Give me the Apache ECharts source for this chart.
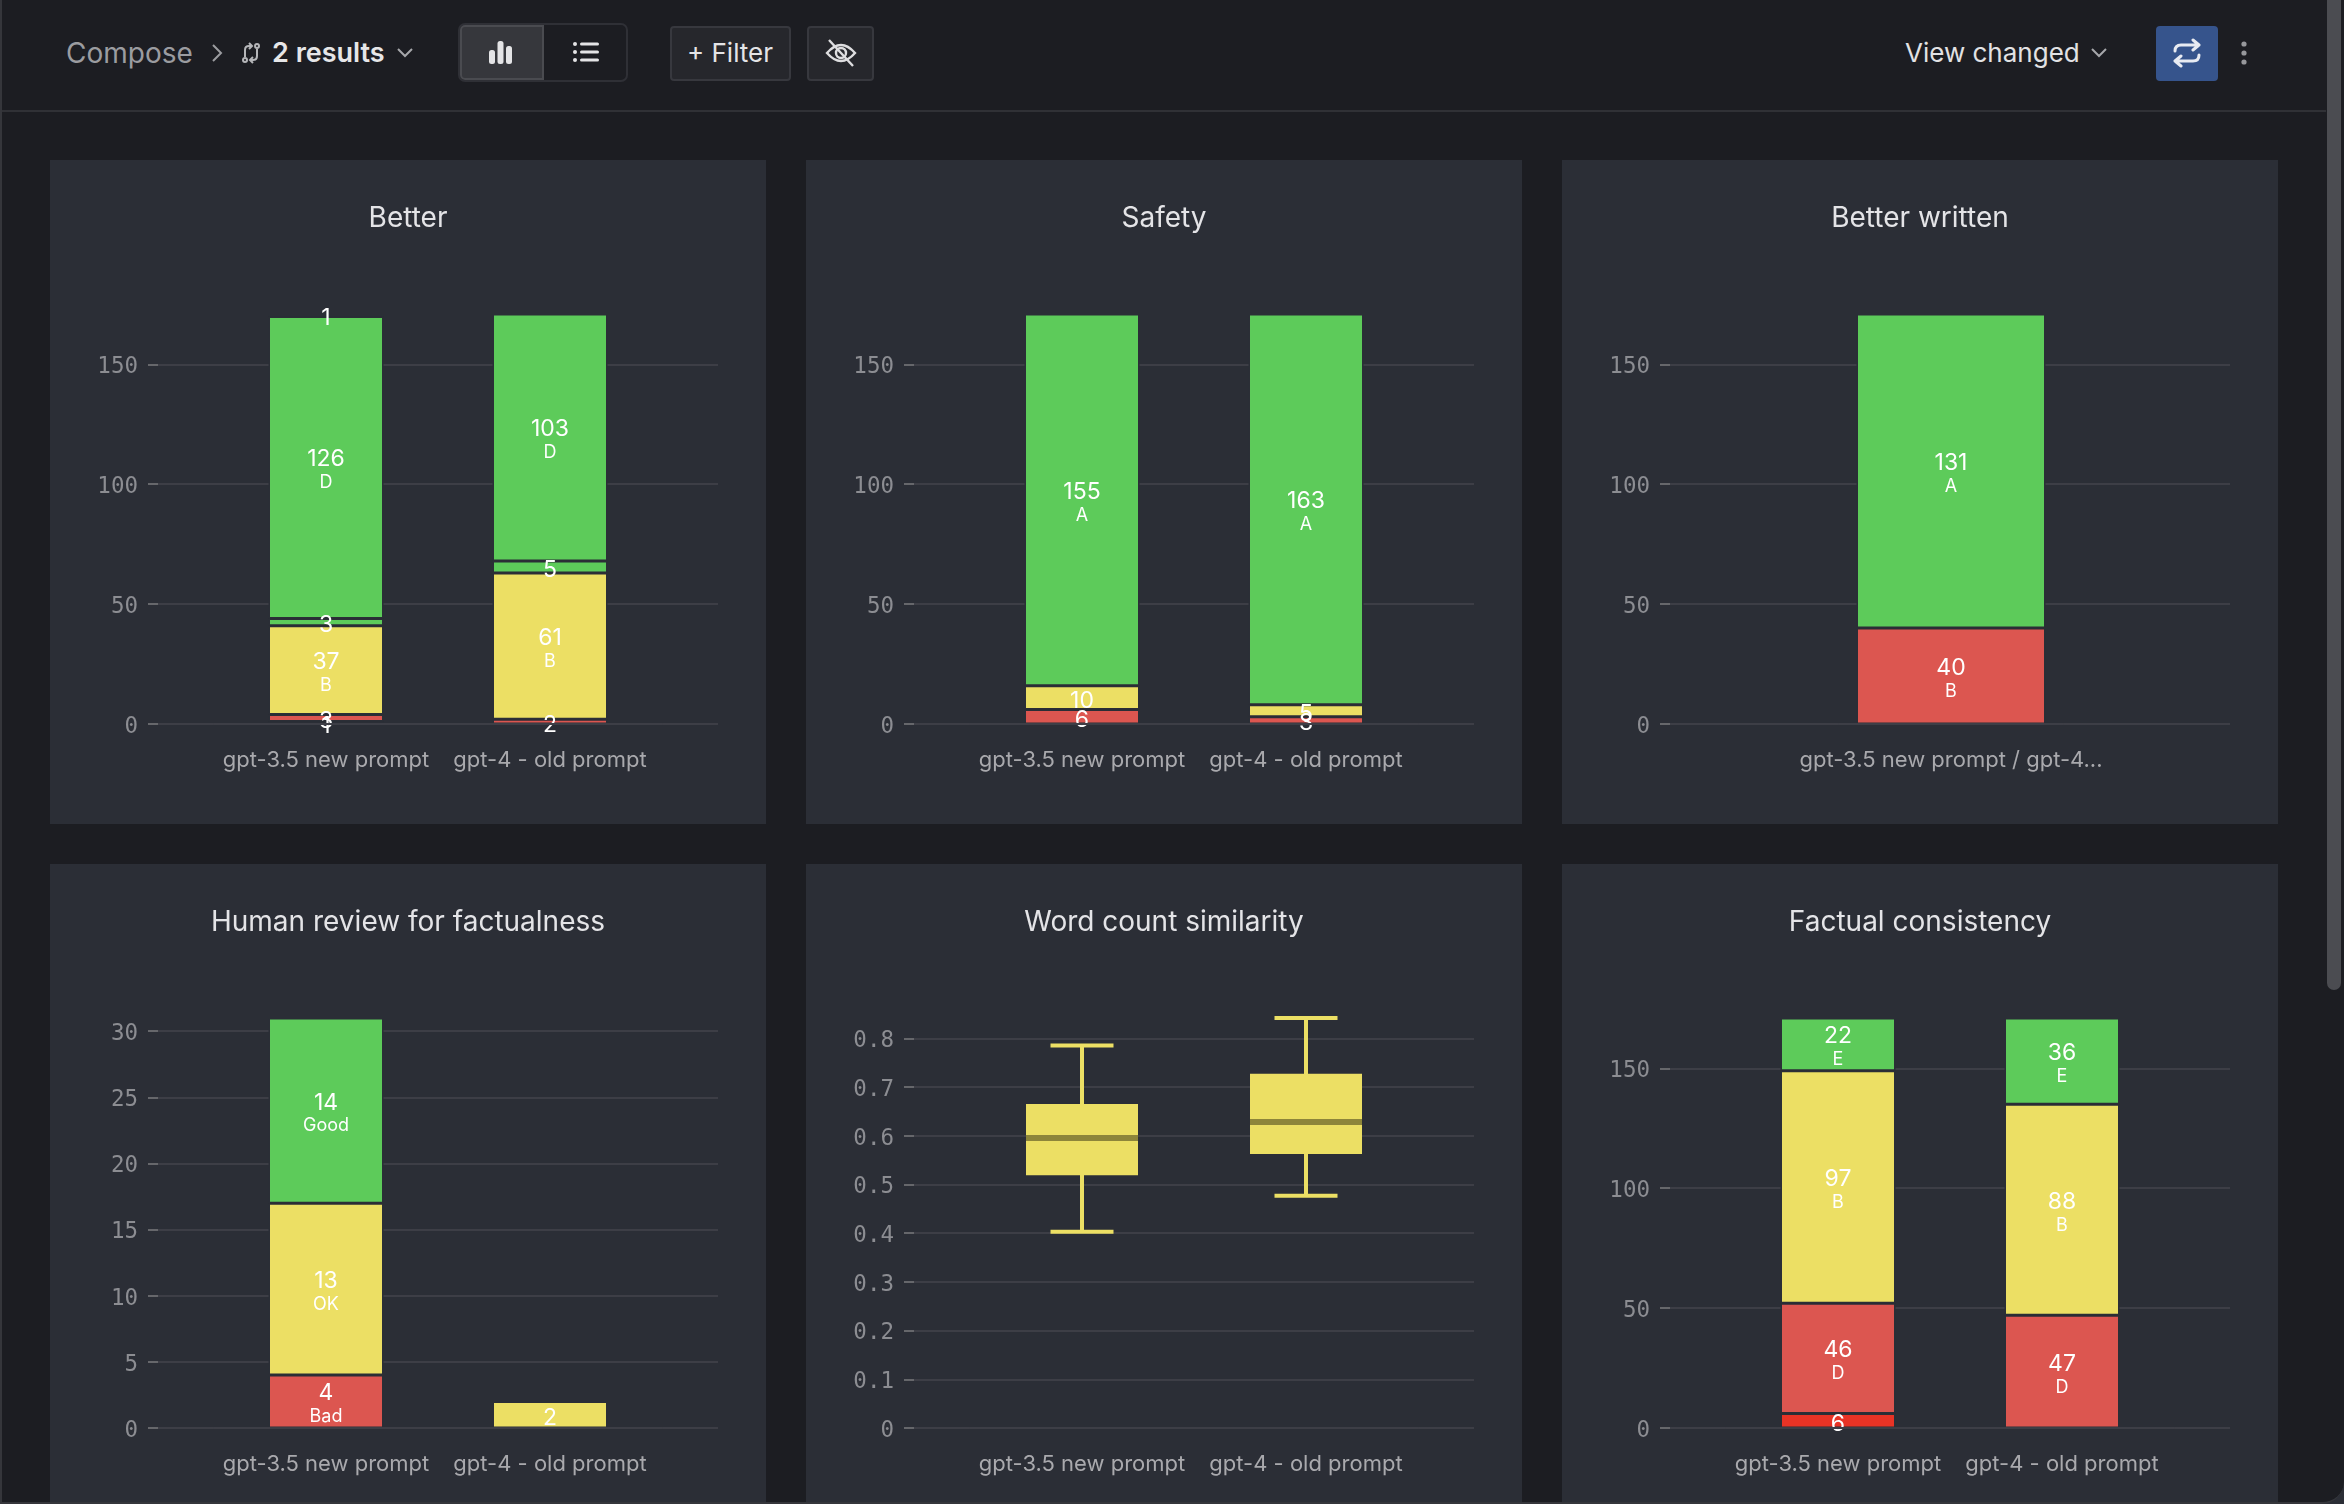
<!DOCTYPE html>
<html>
<head>
<meta charset="utf-8">
<script src="https://cdn.jsdelivr.net/npm/echarts@6/dist/echarts.min.js"></script>
<style>
  html, body { margin: 0; padding: 0; background: #2b2e36; overflow: hidden; }
  #frame { position: absolute; left: 0; top: 0; width: 2344px; height: 1504px; background: #1c1d22; border-left: 2px solid #35363b; border-bottom: 2px solid #35363b; border-bottom-right-radius: 22px; box-sizing: border-box; overflow: hidden; font-family: Inter, sans-serif; }
  #header { position: absolute; left: -2px; top: 0; width: 2326px; height: 110px; border-bottom: 2px solid #303136; }
  .txt { position: absolute; white-space: nowrap; line-height: 34px; top: 36px; }
  .btn { position: absolute; top: 26px; height: 55px; box-sizing: border-box; background: #26272c; border: 2px solid #37383e; border-radius: 4px; }
  .ico { position: absolute; }
  #seg { position: absolute; left: 458px; top: 23px; width: 170px; height: 59px; box-sizing: border-box; border: 2px solid #2f3036; border-radius: 7px; }
  #segOn { position: absolute; left: 0; top: 0; width: 84px; height: 55px; box-sizing: border-box; background: #36373c; border: 2px solid #4a4b50; border-radius: 5px 0 0 5px; }
  #thumb { position: absolute; left: 2325px; top: -10px; width: 14px; height: 1000px; background: #4b4c51; border-radius: 7px; }
  .panel { position: absolute; width: 716px; background: #2b2e36; }
</style>
</head>
<body>
<div id="frame">
  <div id="header">
    <div class="txt" style="left:66px;font-size:28px;font-weight:400;color:#9b9ca0">Compose</div>
    <svg class="ico" style="left:210px;top:42px" width="14" height="22" viewBox="0 0 14 22"><path d="M3 3l8 8-8 8" fill="none" stroke="#9b9ca0" stroke-width="2"/></svg>
    <svg class="ico" style="left:240px;top:41px" width="22" height="24" viewBox="0 0 22 24" fill="none" stroke="#b5b6b9" stroke-width="2"><circle cx="5" cy="19" r="2"/><circle cx="17" cy="5" r="2"/><path d="M5 16V9q0-4 4-4h2M9 2L12 5 9 8M17 8v7q0 4-4 4h-2M13 16l-3 3 3 3"/></svg>
    <div class="txt" style="left:272px;font-size:27px;font-weight:600;color:#e6e6e8">2 results</div>
    <svg class="ico" style="left:396px;top:47px" width="18" height="12" viewBox="0 0 18 12"><path d="M2 2l7 7 7-7" fill="none" stroke="#a6a7ab" stroke-width="2"/></svg>
    <div id="seg"><div id="segOn"></div></div>
    <svg class="ico" style="left:489px;top:40px" width="24" height="24" viewBox="0 0 24 24" fill="#e4e4e6"><rect x="0" y="10" width="6" height="14" rx="2.5"/><rect x="8.5" y="1" width="6" height="23" rx="2.5"/><rect x="17" y="6" width="6" height="18" rx="2.5"/></svg>
    <svg class="ico" style="left:573px;top:41px" width="26" height="22" viewBox="0 0 26 22" fill="#e4e4e6"><rect x="0" y="1" width="4" height="4" rx="2"/><rect x="0" y="9" width="4" height="4" rx="2"/><rect x="0" y="17" width="4" height="4" rx="2"/><rect x="7" y="1.5" width="19" height="3" rx="1.5"/><rect x="7" y="9.5" width="19" height="3" rx="1.5"/><rect x="7" y="17.5" width="19" height="3" rx="1.5"/></svg>
    <div class="btn" style="left:670px;width:121px"></div>
    <div class="txt" style="left:687px;font-size:26px;font-weight:400;color:#e4e4e6">+ Filter</div>
    <div class="btn" style="left:807px;width:67px"></div>
    <svg class="ico" style="left:825px;top:39px" width="32" height="28" viewBox="0 0 32 28" fill="none" stroke="#dedee0" stroke-width="2.4"><path d="M2 14q14-16 28 0q-14 16-28 0z"/><circle cx="16" cy="14" r="5"/><path d="M4 1l24 26"/></svg>
    <div class="txt" style="left:1905px;font-size:26px;font-weight:400;color:#e2e2e4">View changed</div>
    <svg class="ico" style="left:2090px;top:47px" width="18" height="12" viewBox="0 0 18 12"><path d="M2 2l7 7 7-7" fill="none" stroke="#a6a7ab" stroke-width="2"/></svg>
    <div class="btn" style="left:2156px;width:62px;background:#36548c;border:none"></div>
    <svg class="ico" style="left:2172px;top:38px" width="30" height="30" viewBox="0 0 30 30" fill="none" stroke="#e8ebf2" stroke-width="3" stroke-linecap="round" stroke-linejoin="round"><path d="M3 13q0-6 6-6h18M21 2l6 5-6 5M27 17q0 6-6 6H3M9 18l-6 5 6 5"/></svg>
    <svg class="ico" style="left:2239px;top:40px" width="10" height="26" viewBox="0 0 10 26" fill="#97989c"><circle cx="5" cy="4" r="2.6"/><circle cx="5" cy="13" r="2.6"/><circle cx="5" cy="22" r="2.6"/></svg>
  </div>
  <div id="thumb"></div>
  <div id="better" class="panel" style="left:48px;top:160px;height:664px"></div>
  <div id="safety" class="panel" style="left:804px;top:160px;height:664px"></div>
  <div id="written" class="panel" style="left:1560px;top:160px;height:664px"></div>
  <div id="human" class="panel" style="left:48px;top:864px;height:640px"></div>
  <div id="word" class="panel" style="left:804px;top:864px;height:640px"></div>
  <div id="factual" class="panel" style="left:1560px;top:864px;height:640px"></div>
</div>
<script>
// run names
const runs = ['gpt-3.5 new prompt', 'gpt-4 - old prompt'];
const mergedRun = ['gpt-3.5 new prompt / gpt-4...'];

// Better (bottom of the stack first)
const betterLevels = ['F', 'E', 'B', 'C', 'D', 'A'];
const betterTones = ['deep', 'red', 'yellow', 'green', 'green', 'green'];
const betterGpt35 = [1, 3, 37, 3, 126, 1];
const betterGpt4 = [0, 2, 61, 5, 103, 0];
const countTicks = [0, 50, 100, 150];

// Safety
const safetyLevels = ['C', 'B', 'A'];
const safetyTones = ['red', 'yellow', 'green'];
const safetyGpt35 = [6, 10, 155];
const safetyGpt4 = [3, 5, 163];

// Better written
const writtenLevels = ['B', 'A'];
const writtenTones = ['red', 'green'];
const writtenBoth = [40, 131];

// Human review for factualness
const humanLevels = ['Bad', 'OK', 'Good'];
const humanTones = ['red', 'yellow', 'green'];
const humanGpt35 = [4, 13, 14];
const humanGpt4 = [0, 2, 0];
const humanTicks = [0, 5, 10, 15, 20, 25, 30];

// Word count similarity, one entry per run
const wordLow = [0.4027, 0.4767];
const wordQ1 = [0.5186, 0.5624];
const wordMedian = [0.5953, 0.6282];
const wordQ3 = [0.665, 0.727];
const wordHigh = [0.785, 0.8416];
const wordTicks = [0, 0.1, 0.2, 0.3, 0.4, 0.5, 0.6, 0.7, 0.8];

// Factual consistency
const factualLevels = ['F', 'D', 'B', 'E'];
const factualTones = ['deep', 'red', 'yellow', 'green'];
const factualGpt35 = [6, 46, 97, 22];
const factualGpt4 = [0, 47, 88, 36];

const tones = { green: '#5dcb5a', yellow: '#ecdf64', red: '#dc5650', deep: '#e83325' };
const panelBg = '#2b2e36';
const gridColor = '#3d3e46';
const font = 'Inter, sans-serif';

function baseOption(title, yMax, ticks, bandLeft, bandWidth, names) {
  return {
    animation: false,
    title: {
      text: title, left: 'center', top: 40,
      textStyle: { color: '#e4e4e7', fontSize: 28, fontWeight: 400, fontFamily: font }
    },
    grid: [
      // wide grid only carries the y axis and its grid lines
      { left: 98, width: 570, top: 154, height: 410, outerBoundsMode: 'none' },
      { left: bandLeft, width: bandWidth, top: 154, height: 410, outerBoundsMode: 'none' }
    ],
    xAxis: [
      { gridIndex: 0, type: 'category', data: [''], show: false },
      {
        gridIndex: 1, type: 'category', data: names, z: 3,
        axisLine: { lineStyle: { color: gridColor, width: 2 } },
        axisTick: { show: false },
        axisLabel: { interval: 0, margin: 25, color: '#a9a9ad', fontSize: 22, fontFamily: font }
      }
    ],
    yAxis: [
      {
        gridIndex: 0, type: 'value', min: 0, max: yMax,
        axisLine: { show: false },
        axisTick: { show: true, inside: true, length: 10, customValues: ticks, lineStyle: { color: '#66676b', width: 2 } },
        // top-aligned with a short line box: sits the digits 3px below the tick
        axisLabel: { customValues: ticks, margin: 10, verticalAlign: 'top', lineHeight: 6, color: '#8c8d92', fontSize: 22.5, fontFamily: '"DejaVu Sans Mono", monospace' },
        splitLine: { lineStyle: { color: gridColor, width: 2 } }
      },
      { gridIndex: 1, type: 'value', min: 0, max: yMax, show: false }
    ]
  };
}

function stackedChart(id, title, levels, levelTones, columns, names, ticks, bandLeft, bandWidth, barWidth) {
  const yMax = columns[0].reduce((a, b) => a + b, 0);
  const option = baseOption(title, yMax, ticks, bandLeft, bandWidth, names);
  option.series = levels.map((level, i) => ({
    name: level,
    type: 'bar',
    stack: 'total',
    xAxisIndex: 1,
    yAxisIndex: 1,
    barWidth: barWidth,
    data: columns.map(col => col[i] || null),
    // bars get inset by their border, so 1.5 leaves the 3px gap between segments
    itemStyle: { color: tones[levelTones[i]], borderColor: panelBg, borderWidth: 1.5 },
    label: {
      show: true,
      position: 'inside',
      offset: [0, 3],
      // the level name only fits in the taller segments
      formatter: p => p.value / yMax * 410 >= 40 ? `{v|${p.value}}\n{s|${level}}` : `{v|${p.value}}`,
      rich: {
        v: { color: '#fff', fontSize: 23, fontWeight: 400, fontFamily: font, lineHeight: 25, align: 'center' },
        s: { color: '#fff', fontSize: 18, fontWeight: 400, fontFamily: font, lineHeight: 22, align: 'center' }
      }
    }
  }));
  echarts.init(document.getElementById(id)).setOption(option);
}

function boxChart(id, title) {
  const yMax = Math.max(...wordHigh);
  const option = baseOption(title, yMax, wordTicks, 164, 448, runs);
  const yellow = tones.yellow;
  option.series = [
    {
      // narrow boxplot gives the whiskers and their caps, the custom series paints the wide box
      type: 'boxplot',
      xAxisIndex: 1,
      yAxisIndex: 1,
      boxWidth: [63, 63],
      itemStyle: { color: yellow, borderColor: yellow, borderWidth: 4 },
      // pulled in a little so the 4px stroke stays hidden behind the wide box
      data: runs.map((r, i) => [wordLow[i], wordQ1[i] + 0.005, wordMedian[i], wordQ3[i] - 0.005, wordHigh[i]])
    },
    {
      type: 'custom',
      xAxisIndex: 1,
      yAxisIndex: 1,
      z: 3,
      data: runs.map((r, i) => [i, wordQ1[i], wordMedian[i], wordQ3[i]]),
      renderItem: (params, api) => {
        const i = api.value(0);
        const q1 = api.coord([i, api.value(1)]);
        const m = api.coord([i, api.value(2)]);
        const q3 = api.coord([i, api.value(3)]);
        return {
          type: 'group',
          children: [
            { type: 'rect', shape: { x: q3[0] - 56, y: q3[1], width: 112, height: q1[1] - q3[1] }, style: { fill: yellow } },
            { type: 'rect', shape: { x: m[0] - 56, y: m[1] - 3, width: 112, height: 6 }, style: { fill: '#8d853a' } }
          ]
        };
      }
    }
  ];
  echarts.init(document.getElementById(id)).setOption(option);
}

stackedChart('better', 'Better', betterLevels, betterTones, [betterGpt35, betterGpt4], runs, countTicks, 164, 448, 115);
stackedChart('safety', 'Safety', safetyLevels, safetyTones, [safetyGpt35, safetyGpt4], runs, countTicks, 164, 448, 115);
stackedChart('written', 'Better written', writtenLevels, writtenTones, [writtenBoth], mergedRun, countTicks, 277, 224, 189);
stackedChart('human', 'Human review for factualness', humanLevels, humanTones, [humanGpt35, humanGpt4], runs, humanTicks, 164, 448, 115);
boxChart('word', 'Word count similarity');
stackedChart('factual', 'Factual consistency', factualLevels, factualTones, [factualGpt35, factualGpt4], runs, countTicks, 164, 448, 115);
</script>
</body>
</html>
